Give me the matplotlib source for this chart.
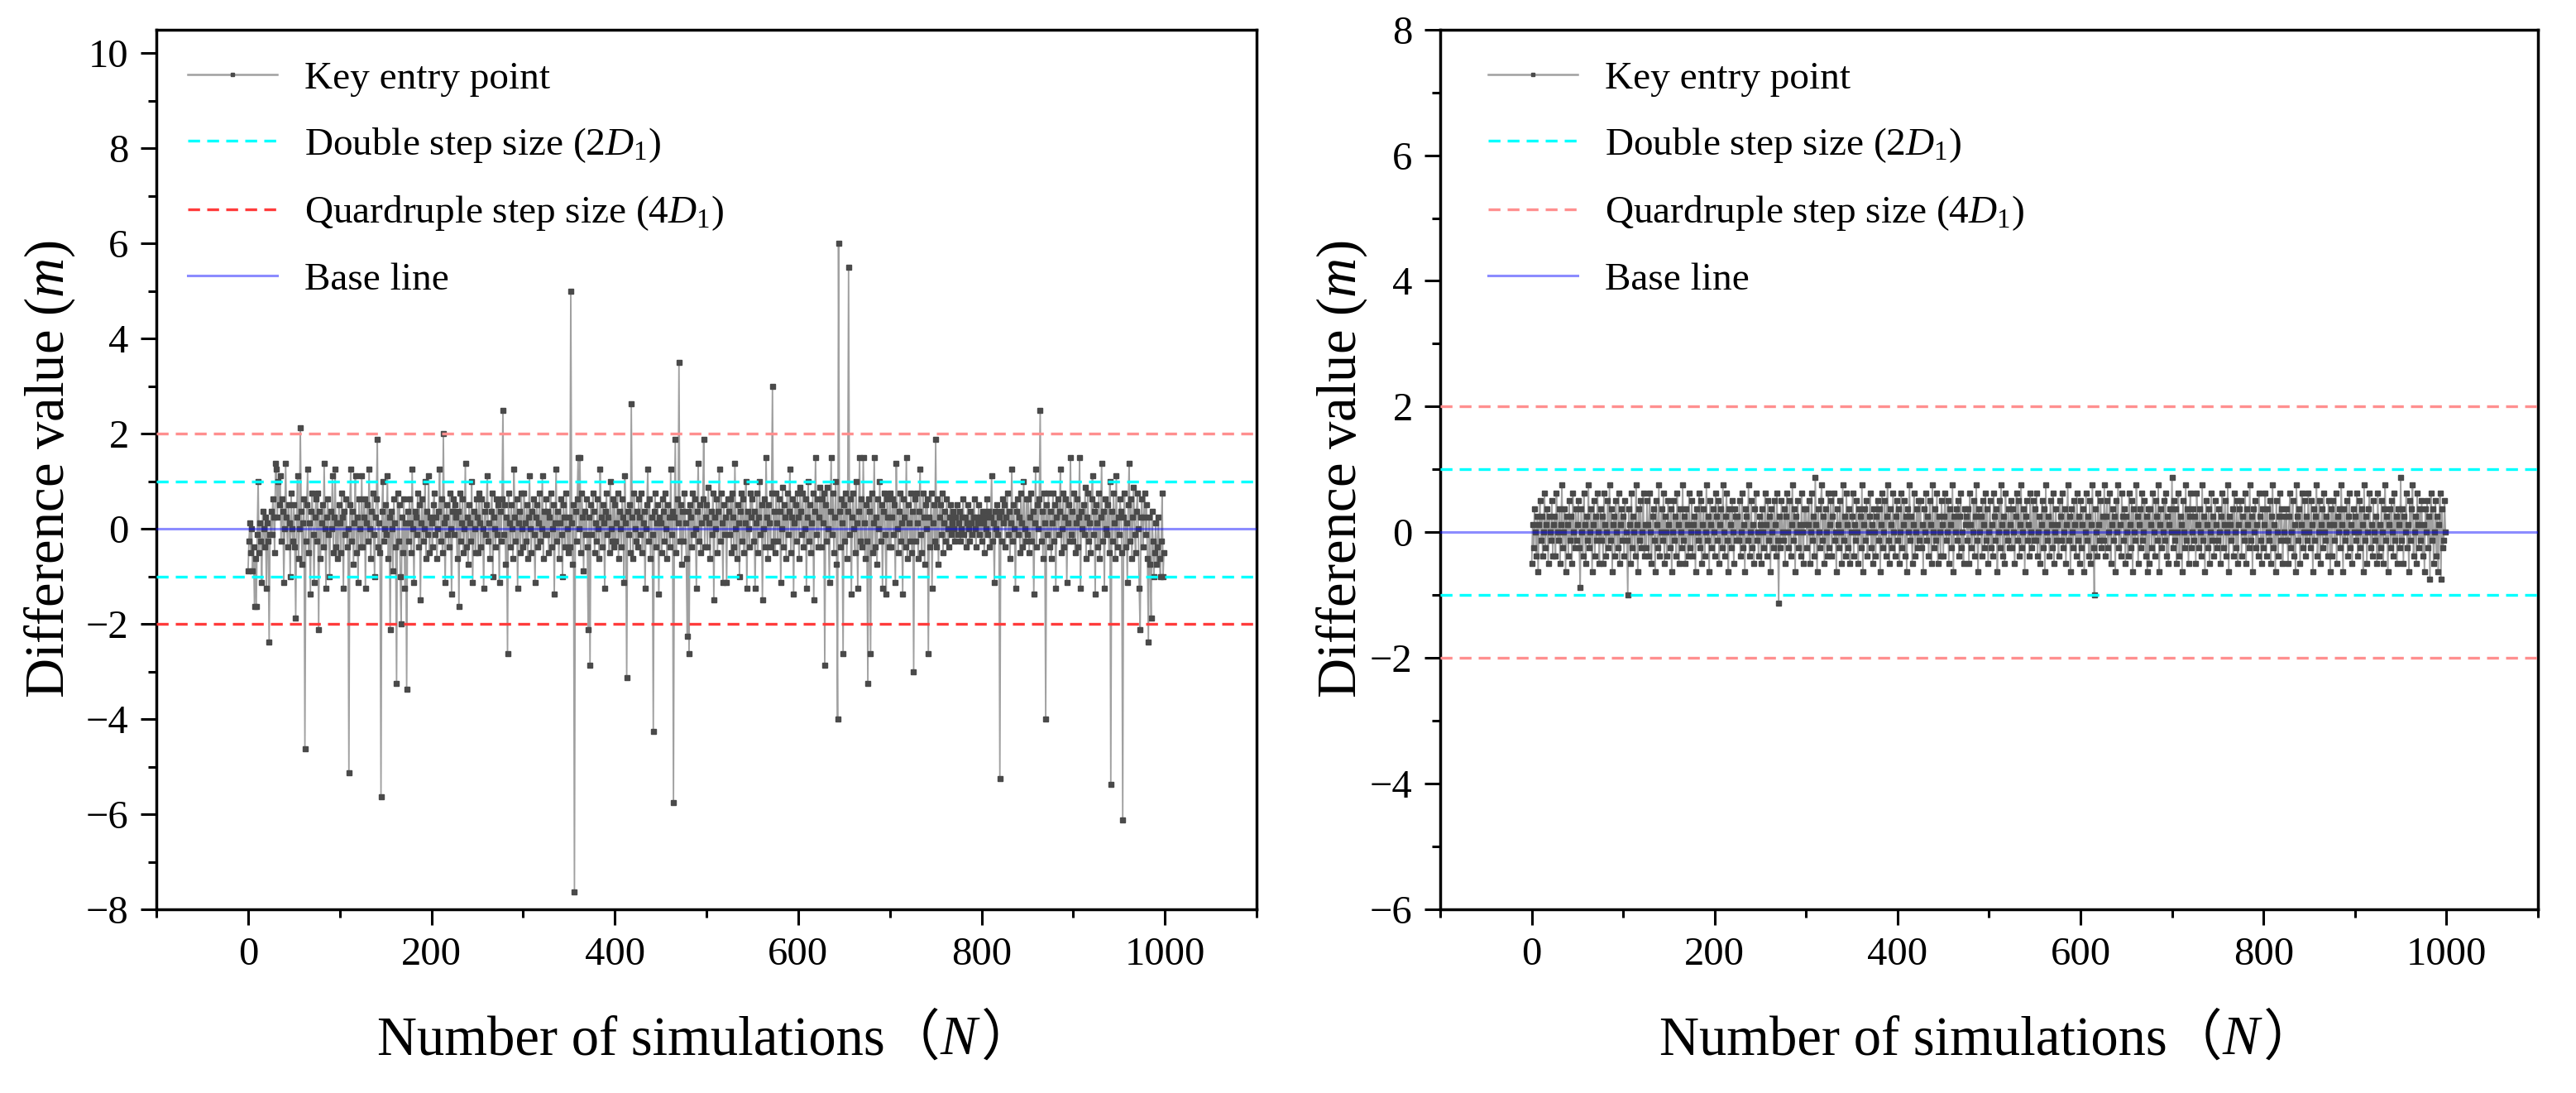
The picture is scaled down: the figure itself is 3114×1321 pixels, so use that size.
import numpy as np
import matplotlib

matplotlib.use("Agg")
import matplotlib.pyplot as plt
from matplotlib.lines import Line2D
from matplotlib.offsetbox import AnchoredOffsetbox, HPacker, TextArea
from matplotlib.ticker import MultipleLocator

plt.rcParams["font.family"] = ["Liberation Serif", "Noto Sans CJK SC"]
plt.rcParams["mathtext.fontset"] = "custom"
plt.rcParams["mathtext.rm"] = "Liberation Serif"
plt.rcParams["mathtext.it"] = "Liberation Serif:italic"

# difference values in units of 1/8 m (values are quantised to 0.125 m)
STEP = 0.125

left_eighths = [
    -7, -2, 1, -4, 0, -7, -3, -13, -5, -13, -1, 8, -4, 1, -2, -9, 3, 0, -3, 2, -10, 1, -2, -19, -1,
    3, -1, 5, 2, -4, 11, 10, 2, 8, 4, 9, -2, 5, 3, -9, 0, 11, 2, -3, 4, 1, -8, 6, 0, -2,
    4, -3, -15, 2, 9, -5, 0, 17, 3, -6, 1, 5, -37, -2, 4, 10, -4, 1, -11, 3, 6, -1, -9, 2, 5,
    -2, 6, -17, 3, -5, 1, 4, -3, 11, 0, -10, 2, 5, -1, -8, 3, 0, 9, -4, 2, 10, -3, 1, -5, 4,
    1, -4, 6, 2, -10, 3, -1, 5, -3, 0, -41, 4, 10, -2, 3, -6, 1, 9, -4, 2, -9, 5, 0, -3, 9,
    -3, 2, 5, -10, 1, 4, -2, 10, 0, -5, 3, 6, -1, -8, 2, 5, 15, -3, 1, -4, -45, 3, 8, -2, 0,
    4, -1, 9, -5, 2, -17, 3, 0, -7, 5, 1, -3, -26, 6, -2, 4, -8, -16, 2, -4, 5, -10, 1, -27, 3,
    -2, 5, 1, -4, 10, 0, -9, 3, 2, -1, 6, -3, 4, -12, 1, 5, -2, 0, 8, -5, 3, -1, 9, -4, 2,
    1, -3, 4, 6, -1, 2, -5, 0, 3, 10, -2, 5, -4, 16, 1, -9, 2, 4, -1, -3, 6, 0, -11, 3, 5,
    -1, 4, 2, -5, 3, -13, 6, -2, 1, 5, -4, 0, 11, -3, 2, -6, 4, 1, -2, 8, -9, 3, 0, -4, 5,
    2, -4, 6, 1, -3, 5, 0, -10, 3, -1, 4, 9, -2, 1, -5, 3, 6, -8, 2, 0, -3, 5, -1, 4, -9,
    3, -2, 5, 20, -1, 4, -6, 2, -21, 6, 1, -3, 4, 0, -5, 10, 2, -2, 5, -10, 1, 3, -4, 6, 0,
    -3, 6, 1, -2, 4, -5, 2, 9, 0, -4, 3, 5, -1, -9, 2, 4, -3, 1, 6, -2, 0, 9, -5, 3, -1,
    5, -1, 3, -4, 2, 6, -3, 0, 4, -11, 1, 10, -2, 3, -5, 1, 5, -1, -8, 4, 2, -3, 6, 0, -4,
    2, -3, 40, 1, -6, 4, -61, 3, -2, 5, 12, 0, 12, -4, 6, 2, -7, 3, -1, 5, -3, -17, 2, -23, 4,
    -1, 6, 3, -4, 1, -2, 5, 0, -5, 10, 2, -3, 4, 1, -10, 3, 6, -1, 2, -4, 8, 0, -2, 5, -3,
    4, -2, 1, 6, -5, 3, 0, -3, 5, 2, -9, 9, 1, -25, 3, -1, 4, -4, 21, 2, -5, 6, 0, -2, 3,
    -3, 5, 2, -1, 6, -4, 1, 3, -10, 0, 4, 10, -2, 5, -5, 2, -1, -34, 3, 6, -3, 1, 4, -11, 2,
    1, -4, 5, 3, -2, 6, 0, -5, 4, 2, -3, 10, -1, 3, -46, 2, 15, -4, 5, 1, 28, -2, 4, -6, 3,
    -2, 6, 1, -5, -18, 3, -21, 4, 2, -3, 6, -1, 5, 0, -10, 3, 11, -2, 4, -4, 1, 5, 15, -3, 2,
    4, -3, 7, 1, -5, 3, -1, 6, -12, 2, 0, 5, -4, 3, 10, -2, 6, 1, -9, 4, -1, 2, -9, 5, 3,
    -1, 5, -4, 6, 2, -3, 11, 0, -5, 4, 1, -8, 3, 6, -2, 5, -4, 1, 8, -10, 3, 0, -3, 6, 2,
    5, -2, 3, -10, 1, 6, -4, 2, 8, -1, 4, -12, 0, 5, -3, 12, 2, -5, 4, 1, -3, 6, 24, -2, 3,
    -4, 6, 1, -2, 5, 3, -9, 0, 7, -3, 4, 2, -5, 6, -1, 3, 10, -4, 2, 5, -11, 1, 4, -2, 6,
    2, -5, 7, 3, -1, 6, -3, 0, 5, -10, 2, 8, -2, 4, -4, 1, 6, -12, 3, 12, -1, 5, -3, 2, 7,
    -3, 5, 1, 6, -23, 4, -2, 7, 0, -9, 3, 12, -1, 6, -4, 2, 8, -6, -32, 48, 3, -3, 5, 1, -21,
    4, -2, 6, -5, 3, 44, -1, 5, -11, 2, 6, 0, -4, 8, 1, -10, 3, 12, -2, 5, -3, 12, 1, -5, 4,
    -2, -26, 5, 3, -21, 6, -4, 1, 12, -3, 2, -6, 5, 0, 8, -2, 4, -10, 3, 6, -1, -11, 5, 2, -3,
    6, -3, 2, 5, -1, 4, -9, 11, 0, -4, 3, 6, -2, 1, -11, 5, 2, -3, 12, -5, 4, 1, -2, 6, -4,
    3, -24, 5, -2, 6, 1, -5, 3, 10, -1, -4, 6, 2, -6, 4, 0, 5, -21, 2, -3, 6, -10, 1, 4, -2,
    15, -3, 5, -6, 2, 4, -1, 6, -4, 1, 3, -2, 5, 0, -3, 2, 4, -1, 1, 3, 0, -2, 2, 4, -1,
    1, 3, -2, 0, 2, 5, -1, 2, -3, 1, 4, 0, -2, 3, 1, -1, 2, 5, 0, -3, 2, 1, 4, -1, 2,
    -2, 3, 1, -4, 2, 0, 5, -1, 3, -3, 2, 9, -2, 1, -9, 3, 0, 4, -1, 2, -42, 3, -2, 5, 1,
    4, -3, 2, 6, -1, 3, -5, 1, 10, -2, 4, 0, -10, 3, 5, -1, 2, -4, 6, 1, -3, 8, 0, -2, 5,
    -1, 5, -4, 2, 6, -2, 3, -11, 1, 10, -3, 4, 0, 5, 20, -2, 3, -5, 6, 1, -32, 4, -1, 6, -3,
    3, -5, 1, 6, -2, 4, -10, 2, 5, -1, 3, 10, -4, 0, 6, -3, 2, 5, -9, 1, 4, -2, 12, -1, 3,
    -2, 6, -4, 1, 5, -3, 2, 12, -10, 3, 0, 4, -1, 7, -5, 2, 6, -2, 1, -4, 5, 9, -1, 3, -11,
    4, 1, -3, 6, -5, 2, 11, -2, 3, -10, 5, 0, -1, 4, -4, 8, -43, 3, -2, 6, 1, -5, 9, -3, 2,
    -1, 5, 3, -4, -49, 2, 6, -3, 1, -9, 4, 11, -2, 5, -5, 2, 7, -1, -4, 3, 6, 0, -10, -17, 2,
    5, -3, 2, 6, -1, 4, -5, -19, 2, -6, -15, 3, -2, -8, -4, 1, -6, -3, 2, -5, -8, -2, 6, -8, -4,
]

right_eighths = [
    -4, 1, -2, 3, 0, -3, 2, -5, 1, 4, -1, 2, -3, 0, 5, -2, 1, 3, -4, 2, 0, -1, 4, -3, 1,
    2, -3, 5, 0, -1, 3, -4, 1, 6, -2, 0, 3, -5, 2, 1, -3, 4, -1, 2, -4, 5, 0, -2, 3, -1,
    1, 4, -2, -7, 3, 0, -3, 5, 1, -4, 2, -1, 6, -2, 0, 3, -5, 1, 4, -3, 2, -1, 5, 0, -4,
    3, -1, 2, -4, 5, 1, -3, 0, 4, -2, 6, -1, 3, -5, 1, 2, -3, 4, 0, -2, 5, -4, 1, 3, -1,
    2, -3, 4, 0, -1, -8, 3, 1, -4, 5, -2, 2, 0, -3, 6, 1, -5, 3, -1, 4, -2, 0, 5, -3, 1,
    -2, 4, 1, -3, 5, 0, -4, 2, 3, -1, -5, 4, 1, -2, 6, -3, 0, 3, -1, 5, -4, 2, 0, -3, 4,
    1, -2, 3, -5, 0, 4, -1, 2, -3, 5, 1, -4, 3, 0, -2, 6, -1, 2, -4, 3, 1, -3, 5, -2, 0,
    4, -3, 1, 2, -5, 3, 0, -1, 5, -2, 4, -4, 1, 3, -3, 0, 6, -1, 2, -5, 4, 1, -2, 3, 0,
    -3, 5, 2, -1, 4, -4, 1, 3, -2, 6, 0, -3, 2, 5, -1, -5, 3, 1, -2, 4, 0, -4, 3, 2, -1,
    2, -1, 4, -3, 0, 5, -2, 1, -5, 3, 2, -1, 6, -3, 0, 4, -2, 1, -4, 3, 5, -1, 0, -3, 2,
    1, -4, 3, 0, -2, 5, 1, -3, 4, -1, 2, -5, 3, 0, -2, 4, 1, -3, 5, -1, -9, 2, -2, 4, 0,
    -1, 3, -4, 2, 5, 0, -2, 4, -3, 1, 6, -1, 3, -5, 2, 0, 4, -2, 1, -3, 5, 0, -4, 3, 1,
    3, -2, 1, 4, -4, 0, 5, -1, 2, -3, 7, 1, -5, 3, 0, -2, 4, 6, -1, 2, -4, 3, 0, -3, 5,
    -2, 1, 4, -3, 2, 5, -1, 0, -5, 3, 1, -2, 4, 0, -4, 6, -1, 2, -3, 5, 1, -2, 3, -4, 0,
    2, 5, -3, 1, -1, 4, 0, -4, 3, 2, -2, 6, -5, 1, 3, -1, 4, -3, 0, 2, 5, -2, 1, -4, 3,
    0, -3, 2, 4, -1, 3, -5, 1, 5, -2, 0, 4, -3, 2, 6, -1, -4, 3, 1, -2, 5, 0, -3, 2, 4,
    -1, 3, -4, 0, 5, -2, 1, 4, -3, 2, -5, 3, 0, 6, -1, 2, -4, 1, 5, -3, 0, 3, -2, 4, -1,
    4, -2, 1, -5, 3, 0, 5, -1, 2, -3, 4, 1, -4, 6, 0, -2, 3, -1, 5, -4, 2, 0, -3, 4, 1,
    -3, 2, 5, -1, 0, 4, -4, 3, 1, -2, 6, -5, 2, 0, 3, -1, 4, -3, 2, 5, -2, 0, -4, 3, 1,
    2, -1, 3, -4, 5, 1, -2, 0, 4, -3, 2, 6, -1, -5, 3, 0, 2, -3, 4, 1, -2, 5, -1, 3, -4,
    0, 4, -2, 1, -3, 5, 2, -1, 3, -5, 0, 4, -2, 6, 1, -3, 2, -4, 5, 0, -1, 3, -2, 1, 4,
    -2, 3, 0, -4, 2, 5, -1, 4, -3, 1, 6, -2, 0, 3, -5, 2, 4, -1, 1, -3, 5, 0, -2, 4, -1,
    3, -1, 5, -3, 0, 2, -4, 1, 4, -2, 3, -5, 6, 0, -1, 2, -3, 4, 1, -2, 5, -4, 0, 3, -1,
    1, -3, 4, 2, -1, 5, -2, 0, 3, -4, 1, 6, -1, 2, -5, 3, 0, -2, 4, 1, -3, 5, -1, 2, -4,
    4, -2, 1, 3, -5, 0, 5, -1, 2, -3, 4, -4, 1, 6, -2, -8, 3, 0, -3, 5, 1, -1, 4, -2, 2,
    -1, 6, -3, 2, 4, -2, 0, 5, -4, 1, 3, -1, 2, -5, 4, 0, 6, -2, 1, -3, 5, 2, -1, 3, -4,
    2, 0, -3, 5, 1, -2, 4, -5, 3, 0, -1, 6, 2, -4, 1, 3, -2, 5, -1, 0, 4, -3, 2, -5, 3,
    -4, 3, 1, -2, 5, 0, -3, 4, 2, -1, 6, -5, 1, 3, -2, 0, 4, -1, 5, -3, 2, -4, 1, 3, 0,
    7, -2, 4, -1, 3, -4, 0, 5, -3, 2, 1, -5, 4, 0, -2, 6, -1, 3, -4, 2, 5, -2, 0, 3, -1,
    2, -4, 5, 1, -2, 3, 0, -3, 6, -1, 2, -5, 4, 1, -2, 3, -4, 0, 5, -1, 2, -3, 4, 1, -2,
    -1, 3, 0, -4, 2, 5, -2, 1, 4, -3, 0, 6, -5, 2, 1, -1, 3, -3, 5, 0, -2, 4, -4, 1, 3,
    4, -3, 2, 0, -1, 5, -4, 3, 1, -2, 6, -1, 2, -5, 3, 0, 4, -2, 1, -3, 5, 2, -1, -4, 3,
    -2, 1, 5, -3, 3, 0, -1, 4, -4, 2, 6, -2, 1, -5, 4, 0, -3, 2, 5, -1, 3, -4, 0, 2, -1,
    3, -1, -4, 2, 5, -2, 0, 4, -3, 1, -5, 6, 2, -1, 3, -4, 1, 5, -2, 0, 4, -3, 2, -1, 5,
    0, -2, 4, 1, -5, 3, -1, 2, 6, -3, 0, 4, -4, 1, 3, -2, 5, 0, -1, 2, -3, 4, 1, -5, 3,
    -3, 4, 1, -1, 5, -4, 2, 0, 3, -2, 6, 1, -5, 3, -1, 0, 4, -3, 2, 5, -2, 1, -4, 3, 0,
    2, -1, 5, -3, 0, 4, -2, 3, 1, -5, 6, -1, 2, -4, 0, 3, 5, -2, 1, -3, 4, 0, -1, 2, -4,
    5, -3, 1, -2, 4, 0, -4, 3, 6, -1, 2, -5, 1, 3, -2, 4, 0, -3, 5, -1, 2, -4, 3, 1, -2,
    7, -1, 3, -4, 2, 0, 5, -2, 1, -5, 4, -1, 3, 6, -3, 0, 2, -4, 5, 1, -2, 3, -1, 4, -3,
    1, -5, 3, 0, 4, -2, 2, -6, 5, -1, 3, -4, 0, 4, -3, 2, -5, 1, 5, -6, 3, -2, -1, 4, 0,
]

double_step = 1.0
quad_step = 2.0
legend_labels = [
    "Key entry point",
    "Double step size (2$D_1$)",
    "Quardruple step size (4$D_1$)",
    "Base line",
]

TICK_FS = 35
LABEL_FS = 48
LEGEND_FS = 34

LINE_GREY = "#a0a0a0"
MARK_GREY = "#4a4a4a"


def draw_panel(ax, values, ylim, red_top, red_bottom, ylabel_x, legend_x):
    x = np.arange(len(values))
    y = np.array(values) * STEP
    ax.plot(x, y, color=LINE_GREY, lw=1.3, marker="s", ms=4.3,
            mfc=MARK_GREY, mec=MARK_GREY, zorder=2)
    dash = (0, (4.3, 2.6))
    ax.axhline(double_step, color="#00ffff", lw=2.4, ls=dash, zorder=3)
    ax.axhline(-double_step, color="#00ffff", lw=2.4, ls=dash, zorder=3)
    ax.axhline(quad_step, color=red_top, lw=2.4, ls=dash, zorder=3)
    ax.axhline(-quad_step, color=red_bottom, lw=2.4, ls=dash, zorder=3)
    ax.axhline(0, color="#0000ff", alpha=0.45, lw=2.2, zorder=4)

    ax.set_xlim(-100, 1100)
    ax.set_ylim(*ylim)
    ax.xaxis.set_major_locator(MultipleLocator(200))
    ax.xaxis.set_minor_locator(MultipleLocator(100))
    ax.yaxis.set_major_locator(MultipleLocator(2))
    ax.yaxis.set_minor_locator(MultipleLocator(1))
    ax.tick_params(which="major", direction="out", length=14, width=2.2,
                   labelsize=TICK_FS, pad=10, top=False, right=False)
    ax.tick_params(which="minor", direction="out", length=7, width=2.2,
                   top=False, right=False)
    for sp in ax.spines.values():
        sp.set_linewidth(2.5)

    ax.set_ylabel("Difference value ($m$)", fontsize=LABEL_FS)
    ax.yaxis.set_label_coords(ylabel_x, 0.5)

    # x label: full-width brackets come from the CJK font, N is italic
    parts = [
        TextArea("Number of simulations",
                 textprops=dict(fontsize=LABEL_FS, family="Liberation Serif")),
        TextArea("（", textprops=dict(fontsize=LABEL_FS, family="Noto Sans CJK SC")),
        TextArea("$N$", textprops=dict(fontsize=LABEL_FS)),
        TextArea("）", textprops=dict(fontsize=LABEL_FS, family="Noto Sans CJK SC")),
    ]
    pack = HPacker(children=parts, align="baseline", pad=0, sep=0)
    box = AnchoredOffsetbox(loc="center", child=pack, frameon=False,
                            bbox_to_anchor=(0.5, -0.147),
                            bbox_transform=ax.transAxes, borderpad=0)
    ax.add_artist(box)

    handles = [
        Line2D([], [], color=LINE_GREY, lw=1.8, marker="s", ms=3.5,
               mfc=MARK_GREY, mec=MARK_GREY),
        Line2D([], [], color="#00ffff", lw=2.4, ls=dash),
        Line2D([], [], color=red_bottom, lw=2.4, ls=dash),
        Line2D([], [], color="#0000ff", alpha=0.45, lw=2.2),
    ]
    ax.legend(handles, legend_labels, loc="upper left", frameon=False,
              bbox_to_anchor=(legend_x, 1.0),
              fontsize=LEGEND_FS, handlelength=2.3, handletextpad=0.7,
              labelspacing=0.75, borderaxespad=0.3, borderpad=0.5,
              numpoints=1)


fig = plt.figure(figsize=(31.14, 13.21), dpi=100)
ax1 = fig.add_axes([0.0607, 0.168, 0.4271, 0.805])
ax2 = fig.add_axes([0.5591, 0.168, 0.4261, 0.805])

draw_panel(ax1, left_eighths, (-8, 10.5), "#ff8f8f", "#ff3b3b", -0.072, 0.0)
draw_panel(ax2, right_eighths, (-6, 8), "#ff8f8f", "#ff8f8f", -0.065, 0.015)

fig.savefig("out.png", dpi=100)
